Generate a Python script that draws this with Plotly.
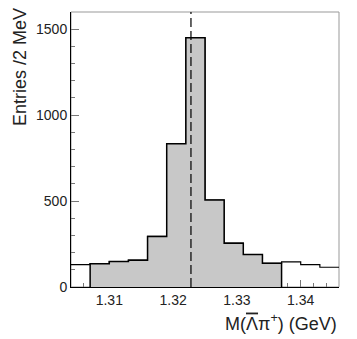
import plotly.graph_objects as go

# histogram bins (GeV) and entries
bin_edges = [1.304, 1.307, 1.310, 1.313, 1.316, 1.319, 1.322, 1.325,
             1.328, 1.331, 1.334, 1.337, 1.340, 1.343, 1.346]
entries = [130, 136, 148, 156, 294, 833, 1450, 506, 255, 189, 138, 146, 130, 115]
signal_first, signal_last = 1, 10  # gray (signal window) bins
peak_mass = 1.3228

# gray region: closed outline down to zero
gx = [bin_edges[signal_first]] + bin_edges[signal_first:signal_last + 2]
gy = [0] + entries[signal_first:signal_last + 1] + [entries[signal_last]]
gx = gx + [bin_edges[signal_last + 1]]
gy = gy + [0]

# full step outline
sx = bin_edges
sy = entries + [entries[-1]]

fig = go.Figure()
fig.add_trace(go.Scatter(
    x=sx, y=sy, mode="lines", line=dict(color="black", width=1.2, shape="hv"),
    hoverinfo="skip",
))
fig.add_trace(go.Scatter(
    x=gx, y=gy, mode="lines", line=dict(color="black", width=1.5, shape="hv"),
    fill="toself", fillcolor="#c8c8c8", hoverinfo="skip",
))
fig.add_shape(type="line", xref="x", yref="y", x0=peak_mass, x1=peak_mass,
              y0=0, y1=1600, line=dict(color="black", width=1.2, dash="9px,4px"))
fig.add_shape(type="rect", xref="paper", yref="paper", x0=0, x1=1, y0=0, y1=1,
              line=dict(color="#999999", width=1), layer="below")

fig.update_layout(
    width=357, height=339,
    margin=dict(l=71, r=18, t=12, b=52),
    plot_bgcolor="white", paper_bgcolor="white",
    showlegend=False,
    font=dict(family="Liberation Sans, Arial", color="#222222"),
    xaxis=dict(
        range=[1.304, 1.346], showgrid=False, zeroline=False,
        showline=True, linecolor="black", linewidth=1,
        ticks="inside", ticklen=7, tickcolor="#777777", tickwidth=1,
        tickvals=[1.31, 1.32, 1.33, 1.34], ticktext=["1.31", "1.32", "1.33", "1.34"],
        minor=dict(ticks="inside", ticklen=4, dtick=0.002, tick0=1.304, tickcolor="#777777"),
        tickfont=dict(size=14), layer="below traces",
    ),
    yaxis=dict(
        range=[0, 1600], showgrid=False, zeroline=False,
        showline=True, linecolor="black", linewidth=1,
        ticks="inside", ticklen=8, tickcolor="#777777", tickwidth=1,
        tickvals=[0, 500, 1000, 1500],
        minor=dict(ticks="inside", ticklen=4, dtick=100, tickcolor="#777777"),
        tickfont=dict(size=14), layer="below traces",
    ),
    annotations=[
        dict(text="M(<span style='text-decoration:overline'>Λ</span>π<sup>+</sup>) (GeV)",
             xref="paper", yref="paper",
             x=1, y=0, xanchor="right", yanchor="top", yshift=-22,
             showarrow=False, font=dict(size=18)),
        dict(text="Entries /2 MeV", xref="paper", yref="paper", textangle=-90,
             x=0, y=1, xanchor="right", yanchor="top", xshift=-39, yshift=6,
             showarrow=False, font=dict(size=18)),
    ],
)

fig.write_html("out.html", config={"displayModeBar": False},
               post_script="document.body.style.margin='0';")
